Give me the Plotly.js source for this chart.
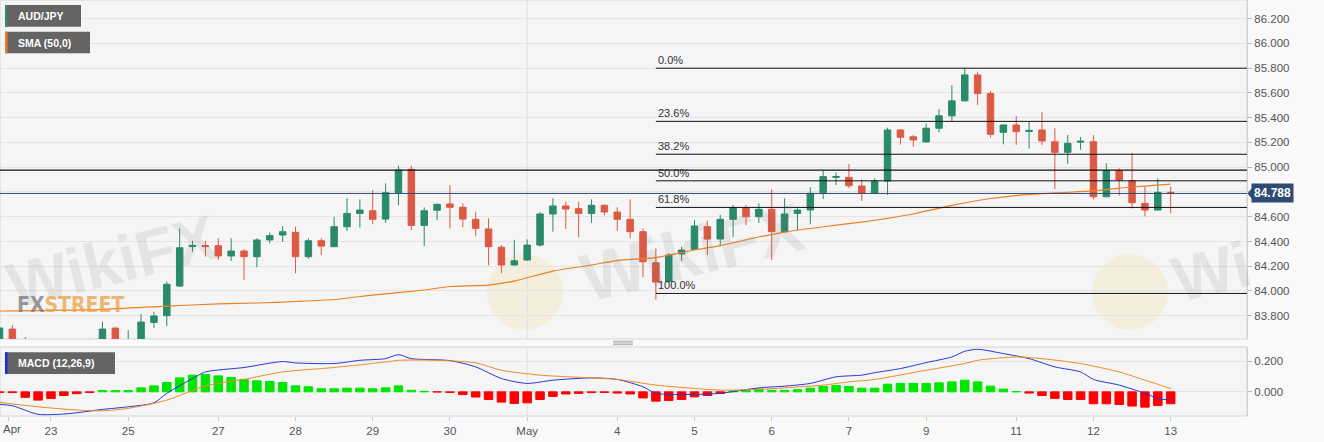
<!DOCTYPE html>
<html><head><meta charset="utf-8">
<script src="https://cdn.plot.ly/plotly-3.0.1.min.js"></script>
<style>html,body{margin:0;padding:0;background:#f9f9fa;} #chart{width:1324px;height:442px;}</style>
</head><body><div id="chart"></div>
<script>
// ---- data (4h candles, AUD/JPY) ----
const dayLabels = ['Apr','23','25','27','28','29','30','May','4','5','6','7','9','11','12','13'];
const dayIdx    = [0.7,4,10,17,23,29,35,41,48,54,60,66,72,79,85,91];

const openP  = [83.58,83.692,83.60,83.56,83.50,83.47,83.52,83.55,83.52,83.70,83.56,83.60,83.746,83.800,84.040,84.359,84.367,84.366,84.283,84.323,
                84.277,84.412,84.452,84.474,84.277,84.406,84.358,84.519,84.627,84.648,84.581,84.794,84.983,84.530,84.652,84.703,84.676,84.579,84.501,84.353,
                84.210,84.250,84.371,84.622,84.687,84.665,84.627,84.692,84.638,84.579,84.479,84.228,84.075,84.299,84.336,84.519,84.420,84.579,84.673,84.600,
                84.660,84.479,84.627,84.654,84.794,84.917,84.918,84.848,84.789,84.888,85.301,85.246,85.204,85.315,85.415,85.536,85.746,85.595,85.282,85.341,
                85.289,85.301,85.206,85.120,85.202,85.206,84.761,84.972,84.891,84.708,84.654,84.797];
const highP  = [83.765,83.724,83.628,83.60,83.58,83.57,83.60,83.615,83.752,83.71,83.684,83.814,83.833,84.075,84.506,84.406,84.406,84.426,84.426,84.339,
                84.426,84.471,84.525,84.519,84.426,84.426,84.600,84.749,84.740,84.816,84.870,85.012,85.012,84.676,84.708,84.856,84.708,84.640,84.587,84.371,
                84.412,84.417,84.638,84.749,84.721,84.721,84.740,84.700,84.676,84.740,84.506,84.344,84.304,84.358,84.573,84.568,84.614,84.695,84.695,84.708,
                84.822,84.749,84.668,84.838,84.972,84.956,85.026,84.902,84.910,85.319,85.305,85.260,85.352,85.469,85.663,85.800,85.772,85.616,85.345,85.414,
                85.372,85.444,85.314,85.260,85.244,85.260,85.032,84.991,85.115,84.842,84.910,84.842];
const lowP   = [83.54,83.56,83.50,83.45,83.42,83.40,83.45,83.48,83.50,83.55,83.50,83.58,83.701,83.717,84.034,84.317,84.277,84.250,84.242,84.089,
                84.191,84.385,84.398,84.143,84.260,84.290,84.353,84.484,84.514,84.541,84.551,84.694,84.492,84.363,84.573,84.506,84.514,84.442,84.208,84.143,
                84.205,84.244,84.358,84.479,84.501,84.433,84.551,84.611,84.487,84.426,84.110,83.931,84.070,84.244,84.331,84.290,84.358,84.434,84.533,84.551,
                84.250,84.475,84.492,84.539,84.743,84.856,84.831,84.728,84.785,84.775,85.182,85.166,85.198,85.280,85.370,85.530,85.503,85.240,85.185,85.180,
                85.151,85.180,84.822,85.026,85.141,84.740,84.758,84.770,84.666,84.603,84.650,84.627];
const closeP = [83.701,83.60,83.56,83.50,83.47,83.52,83.55,83.52,83.692,83.58,83.60,83.749,83.798,84.054,84.349,84.367,84.359,84.283,84.323,84.277,
                84.412,84.447,84.479,84.277,84.406,84.363,84.519,84.627,84.654,84.579,84.794,84.977,84.530,84.648,84.700,84.676,84.581,84.506,84.358,84.210,
                84.244,84.371,84.622,84.687,84.662,84.627,84.692,84.638,84.579,84.479,84.236,84.072,84.291,84.331,84.525,84.420,84.579,84.673,84.600,84.660,
                84.479,84.622,84.654,84.789,84.924,84.925,84.850,84.789,84.888,85.301,85.242,85.220,85.315,85.415,85.536,85.746,85.595,85.266,85.341,85.287,
                85.297,85.212,85.120,85.193,85.210,84.761,84.972,84.897,84.713,84.654,84.797,84.788];

const smaIdx = [0,8,13,17,20,23,26,29,33,35,38,40,43,46,48,51,54,56,59,61,64,67,69,71,74,77,79,82,85,88,91];
const smaVal = [83.838,83.852,83.878,83.895,83.903,83.915,83.931,83.967,84.008,84.036,84.048,84.080,84.161,84.210,84.246,84.270,
                84.331,84.367,84.436,84.476,84.519,84.557,84.587,84.622,84.691,84.747,84.771,84.792,84.808,84.840,84.864];

const histVal = [-0.004,-0.005,-0.036,-0.054,-0.043,-0.024,-0.012,-0.004,0.008,0.008,0.008,0.026,0.039,0.061,0.091,0.109,0.113,0.104,0.094,0.081,
                 0.072,0.068,0.061,0.039,0.033,0.020,0.020,0.024,0.024,0.020,0.026,0.039,0.010,0.003,-0.001,-0.004,-0.018,-0.034,-0.050,-0.067,
                 -0.076,-0.072,-0.050,-0.030,-0.014,-0.010,-0.005,-0.004,-0.008,-0.014,-0.040,-0.061,-0.057,-0.050,-0.033,-0.024,-0.011,0.006,0.010,0.018,
                 0.010,0.010,0.014,0.024,0.035,0.042,0.035,0.024,0.024,0.050,0.055,0.055,0.055,0.059,0.065,0.076,0.065,0.037,0.018,0.001,
                 -0.008,-0.024,-0.043,-0.050,-0.050,-0.078,-0.078,-0.083,-0.093,-0.100,-0.089,-0.078];

const macdIdx = [0,1,3,5,6,8,10,12,13,15,16,19,22,23,26,28,30,31,32,35,37,39,41,43,46,48,50,51,54,56,59,61,63,65,67,68,70,72,74,75,76,78,80,82,84,85,87,89,90,91];
const macdVal = [-0.082,-0.091,-0.147,-0.145,-0.137,-0.115,-0.098,-0.072,-0.010,0.087,0.130,0.159,0.198,0.189,0.185,0.206,0.217,0.243,0.217,0.204,
                 0.163,0.087,0.055,0.076,0.091,0.081,0.033,-0.010,-0.017,-0.010,0.026,0.037,0.055,0.098,0.109,0.125,0.152,0.191,0.228,0.265,
                 0.278,0.250,0.217,0.163,0.130,0.081,0.044,-0.010,-0.043,-0.054];

const sigIdx = [0,3,6,8,10,13,16,19,22,26,30,31,34,37,39,42,46,48,51,54,56,59,61,64,66,68,72,75,76,79,81,84,87,89,91];
const sigVal = [-0.069,-0.098,-0.119,-0.124,-0.108,-0.054,0.039,0.081,0.130,0.159,0.195,0.206,0.206,0.189,0.141,0.109,0.091,0.081,0.044,0.022,
                0.011,0.016,0.026,0.044,0.065,0.081,0.141,0.185,0.206,0.228,0.217,0.185,0.130,0.076,0.022];

const fibHigh = 85.80, fibLow = 83.98, fibStartIdx = 51;
const fibPct = [0, 23.6, 38.2, 50, 61.8, 100];
const hLine = 84.977;
const lastPrice = 84.788;

// ---- layout geometry ----
const PW = 1247, PH = 416;
const px = x => x / PW;
const py = y => (PH - y) / PH;
const xRange = [0.039, 96.93];

const idx = openP.map((_, i) => i);
const green = '#2a8a6c', red = '#dc5a44';

const traces = [
  {type:'candlestick', x: idx, open: openP, high: highP, low: lowP, close: closeP,
   xaxis:'x', yaxis:'y', whiskerwidth:0, hoverinfo:'skip', showlegend:false,
   increasing:{line:{color:green, width:1}, fillcolor:green},
   decreasing:{line:{color:red, width:1}, fillcolor:red}},
  {type:'scatter', mode:'lines', x: smaIdx, y: smaVal, xaxis:'x', yaxis:'y',
   line:{color:'#f08020', width:1.2, shape:'spline', smoothing:0.6}, hoverinfo:'skip', showlegend:false},
  {type:'bar', x: idx, y: histVal, xaxis:'x', yaxis:'y2', width:0.66,
   marker:{color: histVal.map(v => v >= 0 ? '#00e600' : '#ff0000'),
           line:{color: histVal.map(v => v >= 0 ? '#00e600' : '#ff0000'), width:1}},
   hoverinfo:'skip', showlegend:false},
  {type:'scatter', mode:'lines', x: macdIdx, y: macdVal, xaxis:'x', yaxis:'y2',
   line:{color:'#2438d8', width:1, shape:'spline', smoothing:0.7}, hoverinfo:'skip', showlegend:false},
  {type:'scatter', mode:'lines', x: sigIdx, y: sigVal, xaxis:'x', yaxis:'y2',
   line:{color:'#f08a2a', width:1, shape:'spline', smoothing:0.7}, hoverinfo:'skip', showlegend:false}
];

const shapes = [];
const annotations = [];

// watermark logo circles
[[525, 292], [1130, 292]].forEach(c => {
  shapes.push({type:'circle', xref:'paper', yref:'paper', layer:'below',
    x0: px(c[0]-38), x1: px(c[0]+38), y0: py(c[1]+38), y1: py(c[1]-38),
    fillcolor:'rgba(245,205,90,0.16)', line:{width:0}});
});

// panel borders
shapes.push({type:'rect', xref:'x domain', yref:'y domain', x0:0, x1:1, y0:0, y1:1,
  line:{color:'#d6d6e2', width:1}, layer:'below'});
shapes.push({type:'rect', xref:'x domain', yref:'y2 domain', x0:0, x1:1, y0:0, y1:1,
  line:{color:'#d3d3df', width:1}, layer:'below'});

// month divider
shapes.push({type:'line', xref:'x', yref:'y domain', x0:41, x1:41, y0:0, y1:1, line:{color:'#e0e0e6', width:1}, layer:'below'});
shapes.push({type:'line', xref:'x', yref:'y2 domain', x0:41, x1:41, y0:0, y1:1, line:{color:'#e0e0e6', width:1}, layer:'below'});

// horizontal level and last price line
shapes.push({type:'line', xref:'paper', yref:'y', x0:0, x1:1, y0:hLine, y1:hLine, line:{color:'#111', width:1.2}});
shapes.push({type:'line', xref:'paper', yref:'y', x0:0, x1:1, y0:lastPrice, y1:lastPrice, line:{color:'#2f4b72', width:1}});

// fibonacci
fibPct.forEach(p => {
  const lvl = fibHigh - (fibHigh - fibLow) * p / 100;
  shapes.push({type:'line', xref:'x', yref:'y', x0:fibStartIdx, x1:xRange[1], y0:lvl, y1:lvl, line:{color:'#111', width:1}});
  annotations.push({xref:'x', yref:'y', x:fibStartIdx, y:lvl, xanchor:'left', yanchor:'bottom', yshift:0,
    text: p.toFixed(1) + '%', showarrow:false, font:{family:'Liberation Sans, Arial, sans-serif', size:11, color:'#333'}});
});

// price tag
shapes.push({type:'path', xref:'paper', yref:'y',
  path:`M ${px(1247.5)},${lastPrice} L ${px(1252)},${lastPrice+0.045} L ${px(1252)},${lastPrice-0.045} Z`,
  fillcolor:'#2f4b72', line:{width:0}});
annotations.push({xref:'paper', yref:'y', x:px(1251), y:lastPrice, xanchor:'left', yanchor:'middle',
  text:'<b>84.788</b>', showarrow:false, bgcolor:'#2f4b72', borderpad:2,
  font:{family:'Liberation Sans, Arial, sans-serif', size:12, color:'#ffffff'}});

// legend boxes
function legendBox(x0, x1, y0, y1, stripe, label) {
  shapes.push({type:'rect', xref:'paper', yref:'paper', x0:px(x0), x1:px(x1), y0:py(y1), y1:py(y0),
    fillcolor:'#646464', line:{width:0}});
  shapes.push({type:'rect', xref:'paper', yref:'paper', x0:px(x0), x1:px(x0+2.5), y0:py(y1), y1:py(y0),
    fillcolor:stripe, line:{width:0}});
  annotations.push({xref:'paper', yref:'paper', x:px(16), y:py((y0+y1)/2), xanchor:'left', yanchor:'middle',
    text:'<b>' + label + '</b>', showarrow:false,
    font:{family:'Liberation Sans, Arial, sans-serif', size:10.5, color:'#ffffff'}});
}
legendBox(5, 81, 5, 26.7, '#2a8a6c', 'AUD/JPY');
legendBox(5, 90, 31.7, 53.3, '#f07820', 'SMA (50,0)');
legendBox(5, 115, 352.3, 374, '#1030e0', 'MACD (12,26,9)');

// splitter handle
[341.3, 343, 344.7].forEach(y => {
  shapes.push({type:'line', xref:'paper', yref:'paper', x0:px(613), x1:px(633), y0:py(y), y1:py(y), line:{color:'#999', width:0.8}});
});

// first x label drawn as text so it is not dropped at the edge
annotations.push({xref:'paper', yref:'paper', x:px(1), y:py(421), xanchor:'left', yanchor:'top',
  text: dayLabels[0], showarrow:false, font:{family:'Liberation Sans, Arial, sans-serif', size:11.5, color:'#555'}});

// watermarks
[[112, 262, 'WikiFX', 64], [692, 252, 'WikiFX', 68], [1212, 272, 'Wi', 64]].forEach(w => {
  annotations.push({xref:'paper', yref:'paper', x:px(w[0]), y:py(w[1]), xanchor:'center', yanchor:'middle',
    text:'<b>' + w[2] + '</b>', showarrow:false, textangle:-14,
    font:{family:'Liberation Sans, Arial, sans-serif', size:w[3], color:'rgba(110,110,110,0.12)'}});
});
annotations.push({xref:'paper', yref:'paper', x:px(15), y:py(305), xanchor:'left', yanchor:'middle',
  text:'<b><span style="color:rgba(120,120,125,0.75)">FX</span><span style="color:rgba(240,160,70,0.75)">STREET</span></b>',
  showarrow:false, font:{family:'DejaVu Sans Condensed, Liberation Sans, sans-serif', size:21}});

const tickFont = {family:'Liberation Sans, Arial, sans-serif', size:11.5, color:'#555'};

const layout = {
  width:1324, height:442,
  margin:{l:0, r:77, t:0, b:26, pad:0},
  paper_bgcolor:'#f9f9fa', plot_bgcolor:'#f5f5f6',
  showlegend:false, bargap:0.3, boxgap:0.28,
  xaxis:{anchor:'y2', range:xRange, tickvals:dayIdx, ticktext:[''].concat(dayLabels.slice(1)), ticks:'outside', ticklen:4,
         tickcolor:'#c8c8d0', showgrid:false, zeroline:false, showline:false, tickfont:tickFont,
         rangeslider:{visible:false}, fixedrange:true},
  yaxis:{domain:[py(339), 1], anchor:'x', side:'right', range:[83.612, 86.351], tick0:83.8, dtick:0.2,
         tickformat:'.3f', gridcolor:'#e4e4e8', ticks:'outside', ticklen:4, tickcolor:'#b8b8c0',
         showline:true, linecolor:'#cfcfd8', zeroline:false, tickfont:tickFont},
  yaxis2:{domain:[0, py(347)], anchor:'x', side:'right', range:[-0.158, 0.293], tickvals:[0, 0.2],
          ticktext:['0.000', '0.200'], gridcolor:'#e4e4e8', ticks:'outside', ticklen:4, tickcolor:'#b8b8c0',
          showline:true, linecolor:'#cfcfd8', zeroline:false, tickfont:tickFont},
  shapes: shapes,
  annotations: annotations
};

Plotly.newPlot('chart', traces, layout, {displayModeBar:false, staticPlot:true});
</script>
</body></html>
